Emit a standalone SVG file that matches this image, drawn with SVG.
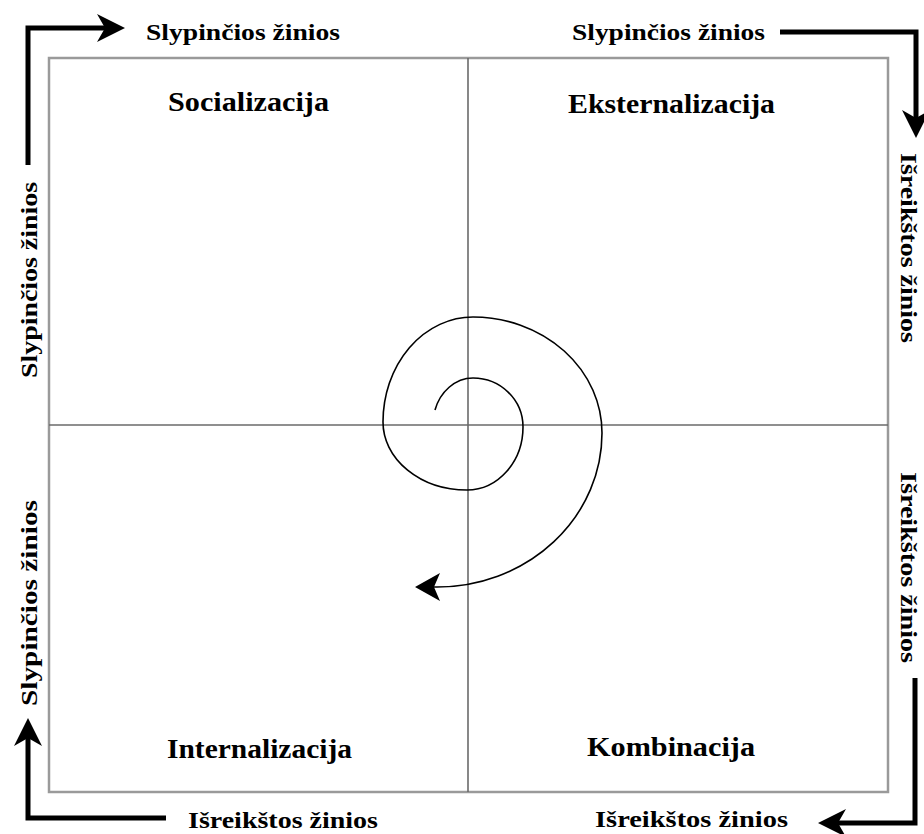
<svg xmlns="http://www.w3.org/2000/svg" width="924" height="834" viewBox="0 0 924 834">
<defs>
<style>
.t{font-family:"Liberation Serif","Times New Roman",serif;font-weight:bold;fill:#000}
.title{font-size:28px}
.lab{font-size:24px}
.rlab{font-size:23px}
.frame{fill:none;stroke:#9a9a9a;stroke-width:2.5}
.div{stroke:#6a6a6a;stroke-width:1.6;fill:none}
.flow{fill:none;stroke:#000;stroke-width:5;stroke-linejoin:miter}
.spiral{fill:none;stroke:#000;stroke-width:1.6}
</style>
<marker id="ah" markerUnits="userSpaceOnUse" markerWidth="40" markerHeight="40" refX="10" refY="0" orient="auto" overflow="visible">
<path d="M28,0 L0,-14 L8,0 L0,14 Z" fill="#000"/>
</marker>
<marker id="ahs" markerUnits="userSpaceOnUse" markerWidth="40" markerHeight="40" refX="7" refY="0" orient="auto" overflow="visible">
<path d="M25,0 L0,-14 L6,0 L0,14 Z" fill="#000"/>
</marker>
</defs>
<rect width="924" height="834" fill="#fff"/>

<g id="frame">
<rect class="frame" x="49" y="58" width="839" height="734"/>
<line class="div" x1="468" y1="58" x2="468" y2="792"/>
<line class="div" x1="49" y1="425" x2="888" y2="425"/>
</g>

<g id="socializacija"><text class="t title" x="168" y="111" textLength="161" lengthAdjust="spacingAndGlyphs">Socializacija</text></g>
<g id="eksternalizacija"><text class="t title" x="568" y="113" textLength="207" lengthAdjust="spacingAndGlyphs">Eksternalizacija</text></g>
<g id="internalizacija"><text class="t title" x="167" y="758" textLength="185" lengthAdjust="spacingAndGlyphs">Internalizacija</text></g>
<g id="kombinacija"><text class="t title" x="587" y="756" textLength="168" lengthAdjust="spacingAndGlyphs">Kombinacija</text></g>

<g id="labels">
<text class="t lab" x="146" y="40" textLength="194" lengthAdjust="spacingAndGlyphs">Slypinčios žinios</text>
<text class="t lab" x="572" y="40" textLength="193" lengthAdjust="spacingAndGlyphs">Slypinčios žinios</text>
<text class="t lab" x="188" y="828" textLength="190" lengthAdjust="spacingAndGlyphs">Išreikštos žinios</text>
<text class="t lab" x="595" y="827" textLength="193" lengthAdjust="spacingAndGlyphs">Išreikštos žinios</text>
<text class="t lab" transform="translate(37,378) rotate(-90)" textLength="196" lengthAdjust="spacingAndGlyphs">Slypinčios žinios</text>
<text class="t lab" transform="translate(37,706) rotate(-90)" textLength="206" lengthAdjust="spacingAndGlyphs">Slypinčios žinios</text>
<text class="t rlab" transform="translate(901,153) rotate(90)" textLength="190" lengthAdjust="spacingAndGlyphs">Išreikštos žinios</text>
<text class="t rlab" transform="translate(901,472) rotate(90)" textLength="191" lengthAdjust="spacingAndGlyphs">Išreikštos žinios</text>
</g>

<g id="connectors">
<path class="flow" d="M28,165 V28 H107" marker-end="url(#ah)"/>
<path class="flow" d="M780,32 H916 V120" marker-end="url(#ah)"/>
<path class="flow" d="M915,678 V823 H836" marker-end="url(#ah)"/>
<path class="flow" d="M166,818 H28 V736" marker-end="url(#ah)"/>
<path class="spiral" d="M435,410 C440,392 455,378 473,378 A50,49 0 0 1 523,427 A56,63 0 0 1 467,490 A84,68 0 0 1 383,422 A90,105 0 0 1 473,317 A129,116 0 0 1 602,433 A165,154 0 0 1 437,587 L433,587" marker-end="url(#ahs)"/>
</g>
</svg>
